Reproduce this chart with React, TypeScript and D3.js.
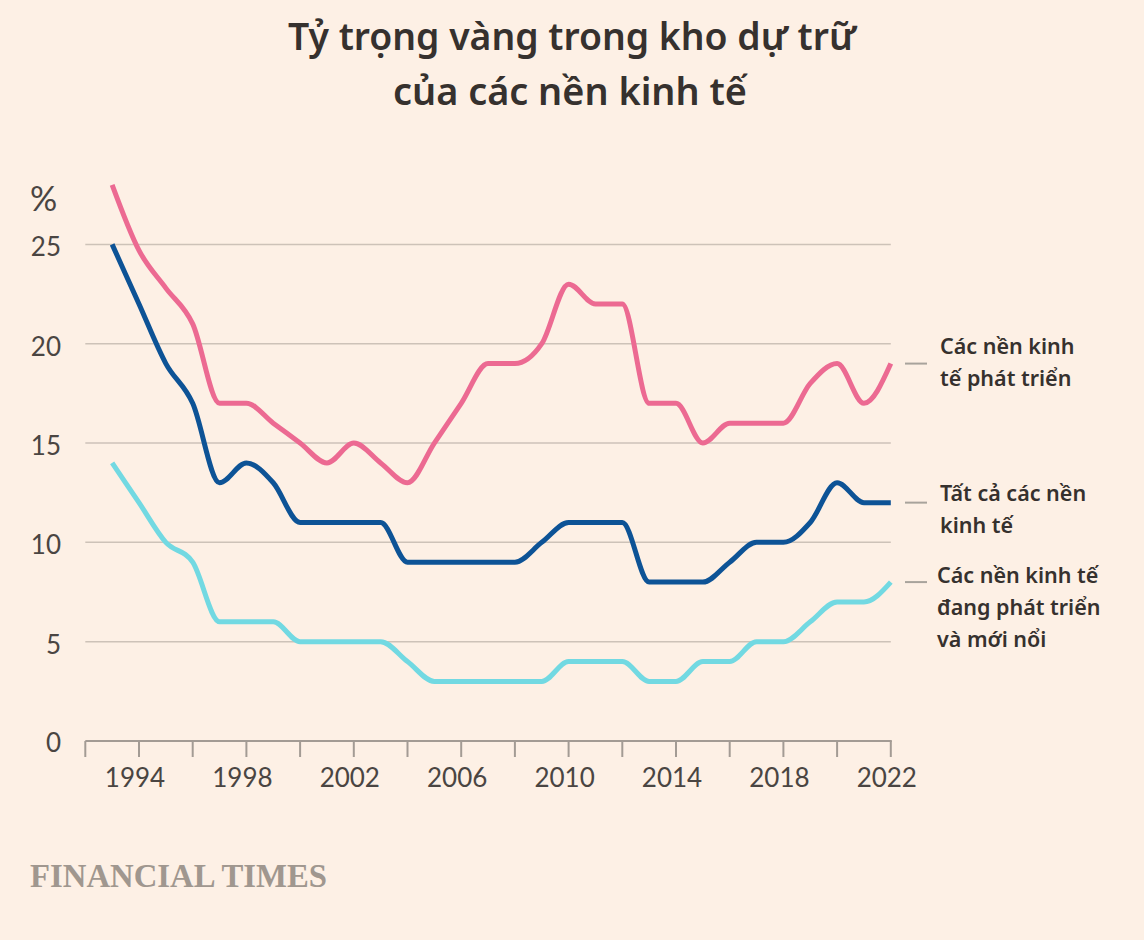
import React from "react";
import * as d3 from "d3";

const years: number[] = [
  1993, 1994, 1995, 1996, 1997, 1998, 1999, 2000, 2001, 2002, 2003, 2004, 2005, 2006, 2007,
  2008, 2009, 2010, 2011, 2012, 2013, 2014, 2015, 2016, 2017, 2018, 2019, 2020, 2021, 2022,
];
const developed: number[] = [
  28, 24.7, 22.8, 21, 17, 17, 16, 15, 14, 15, 14, 13, 15, 17, 19,
  19, 20, 23, 22, 22, 17, 17, 15, 16, 16, 16, 18, 19, 17, 19,
];
const allEconomies: number[] = [
  25, 22, 19, 17, 13, 14, 13, 11, 11, 11, 11, 9, 9, 9, 9,
  9, 10, 11, 11, 11, 8, 8, 8, 9, 10, 10, 11, 13, 12, 12,
];
const emerging: number[] = [
  14, 12, 10, 9, 6, 6, 6, 5, 5, 5, 5, 4, 3, 3, 3,
  3, 3, 4, 4, 4, 3, 3, 4, 4, 5, 5, 6, 7, 7, 8,
];
const yTicks: number[] = [0, 5, 10, 15, 20, 25];
const xTickYears: number[] = d3.range(1992, 2023, 2);
const xLabelYears: number[] = [1994, 1998, 2002, 2006, 2010, 2014, 2018, 2022];
const titleLines: string[] = ["Tỷ trọng vàng trong kho dự trữ", "của các nền kinh tế"];
const seriesNames: string[][] = [
  ["Các nền kinh", "tế phát triển"],
  ["Tất cả các nền", "kinh tế"],
  ["Các nền kinh tế", "đang phát triển", "và mới nổi"],
];

const BG = "#fdf0e5";
const COLORS = ["#ec6a92", "#0d5396", "#72d9e2"];

export default function App() {
  const x = d3.scaleLinear().domain([1992, 2022]).range([85.3, 890.8]);
  const y = d3.scaleLinear().domain([0, 25]).range([741, 244.4]);

  const series = [developed, allEconomies, emerging];
  const line = d3
    .line<number>()
    .x((_, i) => x(years[i]))
    .y((v) => y(v))
    .curve(d3.curveMonotoneX);

  const labelOffsets = [-10, -2, 1];
  const labelX = [940, 940, 937];
  const sans = "'Noto Sans', 'Open Sans', sans-serif";
  const tickFont = "Lato, 'Open Sans', sans-serif";

  return (
    <svg
      width={1144}
      height={940}
      style={{ position: "absolute", left: 0, top: 0, display: "block" }}
    >
      <rect width={1144} height={940} fill={BG} />

      {/* title */}
      <text
        x={572}
        y={50}
        textAnchor="middle"
        fontFamily={sans}
        fontWeight={600}
        fontSize={38}
        fill="#36312e"
        textLength={568}
        lengthAdjust="spacingAndGlyphs"
      >
        {titleLines[0]}
      </text>
      <text
        x={570}
        y={105}
        textAnchor="middle"
        fontFamily={sans}
        fontWeight={600}
        fontSize={38}
        fill="#36312e"
        textLength={354}
        lengthAdjust="spacingAndGlyphs"
      >
        {titleLines[1]}
      </text>

      {/* unit */}
      <text x={30} y={211} fontFamily={tickFont} fontWeight={400} fontSize={34} fill="#4a4542">
        %
      </text>

      {/* gridlines */}
      {yTicks
        .filter((t) => t > 0)
        .map((t) => (
          <line
            key={t}
            x1={x(1992)}
            x2={x(2022)}
            y1={y(t)}
            y2={y(t)}
            stroke="#cdc2b8"
            strokeWidth={1.5}
          />
        ))}

      {/* y labels */}
      {yTicks.map((t) => (
        <text
          key={t}
          x={61}
          y={y(t) + (t === 0 ? 11 : 12)}
          textAnchor="end"
          fontFamily={tickFont}
          fontWeight={400}
          fontSize={26}
          fill="#4a4542"
        >
          {t}
        </text>
      ))}

      {/* x axis */}
      <line x1={x(1992)} x2={x(2022) + 1} y1={y(0)} y2={y(0)} stroke="#a39b94" strokeWidth={2} />
      {xTickYears.map((yr) => (
        <line
          key={yr}
          x1={x(yr)}
          x2={x(yr)}
          y1={y(0)}
          y2={y(0) + 16}
          stroke="#a39b94"
          strokeWidth={2}
        />
      ))}
      {xLabelYears.map((yr) => (
        <text
          key={yr}
          x={x(yr) - 4}
          y={787}
          textAnchor="middle"
          fontFamily={tickFont}
          fontWeight={400}
          fontSize={26}
          fill="#4a4542"
        >
          {yr}
        </text>
      ))}

      {/* lines */}
      {series.map((s, i) => (
        <path
          key={i}
          d={line(s) || ""}
          fill="none"
          stroke={COLORS[i]}
          strokeWidth={5}
          strokeLinejoin="round"
        />
      ))}

      {/* labels */}
      {series.map((s, i) => {
        const ly = y(s[s.length - 1]);
        return (
          <g key={i}>
            <line x1={905} x2={927} y1={ly} y2={ly} stroke="#a8a39c" strokeWidth={2} />
            <text fontFamily={sans} fontWeight={600} fontSize={21.5} fill="#36312e">
              {seriesNames[i].map((t, j) => (
                <tspan key={j} x={labelX[i]} y={ly + labelOffsets[i] + j * 32}>
                  {t}
                </tspan>
              ))}
            </text>
          </g>
        );
      })}

      {/* source */}
      <text
        x={30}
        y={887}
        fontFamily="'Liberation Serif', 'DejaVu Serif', serif"
        fontWeight={700}
        fontSize={33}
        fill="#a0978f"
        textLength={297}
        lengthAdjust="spacingAndGlyphs"
      >
        FINANCIAL TIMES
      </text>
    </svg>
  );
}
